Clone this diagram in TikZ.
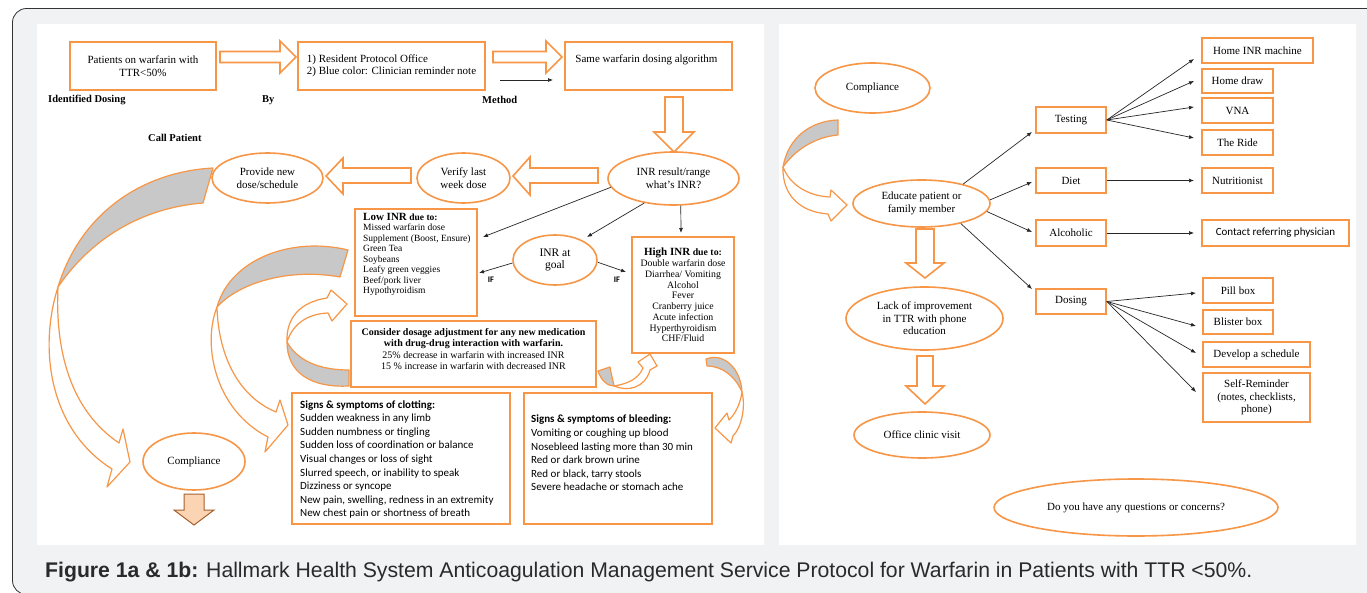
\documentclass[tikz,border=0pt]{standalone}
\usepackage{fontspec}
\setmainfont{Liberation Serif}
\newfontfamily\cali{Carlito}
\newfontfamily\arialf{Liberation Sans}
\usetikzlibrary{arrows.meta,shapes.geometric}
\definecolor{org}{HTML}{F79646}
\definecolor{bggray}{HTML}{F1F2F4}
\definecolor{crescent}{HTML}{C8C8C8}
\definecolor{peach}{HTML}{FBD4B4}
\definecolor{peachline}{HTML}{A5602E}
\definecolor{captxt}{HTML}{2A2A2A}
\begin{document}
\begin{tikzpicture}[x=1pt,y=-1pt,
  box/.style={draw=org,line width=1.6pt,fill=white,rectangle,inner sep=0pt,align=center,font=\fontsize{11}{12.5}\selectfont},
  oval/.style={draw=org,line width=1.6pt,fill=white,ellipse,inner sep=0pt,align=center,font=\fontsize{11}{12.5}\selectfont},
  blk/.style={draw=org,line width=1.6pt,fill=white,line join=miter},
  crv/.style={draw=org,line width=1.2pt,fill=white,line join=round},
  crvg/.style={draw=org,line width=1.2pt,fill=crescent,line join=round},
  conn/.style={draw=black!85,line width=0.7pt,-{Latex[length=5pt,width=4pt]}},
  txt/.style={inner sep=0pt,align=center,font=\fontsize{11}{12.5}\selectfont},
  lbl/.style={inner sep=0pt,anchor=west,font=\bfseries\fontsize{10.5}{12}\selectfont},
  iflbl/.style={inner sep=0pt,font=\cali\bfseries\fontsize{8.5}{10}\selectfont},
  sans/.style={inner sep=0pt,align=left,anchor=west,font=\cali\fontsize{11}{13.6}\selectfont},
]
\useasboundingbox (0,0) rectangle (1367,593);
\fill[white] (0,0) rectangle (1367,593);
\draw[fill=bggray,draw=black!80,line width=0.8pt,rounded corners=14pt] (12.5,8.5) rectangle (1390,594.5);
\fill[white] (37,24) rectangle (764,545);
\fill[white] (779,24) rectangle (1356,545);

% ---------- left panel, top row ----------
\node[box,minimum width=146pt,minimum height=48pt] (p1) at (143,66) {Patients on warfarin with\\TTR<50\%};
\draw[blk] (220,51.5) -- (280,51.5) -- (280,41) -- (296,57) -- (280,73) -- (280,62.5) -- (220,62.5) -- cycle;
\node[box,minimum width=187pt,minimum height=48pt,align=left] (p2) at (391.5,66) {1) Resident Protocol Office\\2) Blue color: Clinician reminder note};
\draw[blk] (493,51.5) -- (546,51.5) -- (546,41) -- (562,57) -- (546,73) -- (546,62.5) -- (493,62.5) -- cycle;
\coordinate (sa1) at (500,80);
\coordinate (sa2) at (553,80);
\draw[conn] (sa1) -- (sa2);
\node[box,minimum width=167pt,minimum height=48pt] (p3) at (648.5,66) {};
\node[txt] (p3t) at (646.5,60) {Same warfarin dosing algorithm};
\node[lbl] (l1) at (48,100) {Identified Dosing};
\node[lbl] (l2) at (262,100) {By};
\node[lbl] (l3) at (482,100) {Method};
\node[lbl] (l4) at (148,138) {Call Patient};

% down arrow to INR
\draw[blk] (665,97) -- (683,97) -- (683,132) -- (694,132) -- (674,152) -- (654,132) -- (665,132) -- cycle;
\node[oval,minimum width=131pt,minimum height=53pt] (inr) at (673.5,178.5) {INR result/range\\what’s INR?};
\draw[blk] (598,168) -- (530,168) -- (530,157) -- (513,176) -- (530,195) -- (530,183) -- (598,183) -- cycle;
\node[oval,minimum width=93pt,minimum height=50pt] (verify) at (463.5,178) {Verify last\\week dose};
\draw[blk] (411,168) -- (343,168) -- (343,158) -- (326,176) -- (343,194) -- (343,183) -- (411,183) -- cycle;
\node[oval,minimum width=111pt,minimum height=50pt] (provide) at (267.5,178) {Provide new\\dose/schedule};

% ---------- INR branches ----------
\node[box,minimum width=122pt,minimum height=107pt] (low) at (416,262.5) {};
\node[inner sep=0pt,anchor=north west,align=left,font=\fontsize{9.5}{10.5}\selectfont] (lowt) at (363,213)
 {{\bfseries\fontsize{11}{10.5}\selectfont Low INR} \textbf{due to:}\\Missed warfarin dose\\Supplement (Boost, Ensure)\\Green Tea\\Soybeans\\Leafy green veggies\\Beef/pork liver\\Hypothyroidism};
\node[oval,minimum width=84pt,minimum height=50pt,font=\fontsize{11.5}{12.5}\selectfont] (goal) at (555,260) {INR at\\goal};
\node[box,minimum width=102pt,minimum height=116pt,font=\fontsize{9.8}{10.75}\selectfont] (high) at (683,295)
 {{\bfseries\fontsize{11}{10.75}\selectfont High INR} \textbf{due to:}\\Double warfarin dose\\Diarrhea/ Vomiting\\Alcohol\\Fever\\Cranberry juice\\Acute infection\\Hyperthyroidism\\CHF/Fluid};
\node[box,minimum width=245pt,minimum height=66pt] (consider) at (473.5,354) {};
\node[txt,font=\fontsize{10}{11.4}\selectfont] (considert) at (473.5,349)
 {\textbf{Consider dosage adjustment for any new medication}\\\textbf{with drug-drug interaction with warfarin.}\\25\% decrease in warfarin with increased INR\\15 \% increase in warfarin with decreased INR};

\coordinate (e1) at (483,237);
\coordinate (e2) at (587,237);
\coordinate (e3) at (681,233);
\coordinate (e4) at (479,273);
\coordinate (e5) at (626,272);
\draw[conn] (inr.188.9) -- (e1);
\draw[conn] (inr.220.7) -- (e2);
\draw[conn] (inr.285.8) -- (e3);
\draw[conn] (goal.184) -- (e4);
\draw[conn] (goal.357) -- (e5);
\node[iflbl] (if1) at (491,280) {IF};
\node[iflbl] (if2) at (617,280) {IF};

% ---------- symptoms ----------
\node[box,minimum width=218pt,minimum height=131pt] (clot) at (401,458.5) {};
\node[sans] (clott) at (300,459.5) {\textbf{Signs \& symptoms of clotting:}\\Sudden weakness in any limb\\Sudden numbness or tingling\\Sudden loss of coordination or balance\\Visual changes or loss of sight\\Slurred speech, or inability to speak\\Dizziness or syncope\\New pain, swelling, redness in an extremity\\New chest pain or shortness of breath};
\node[box,minimum width=188pt,minimum height=131pt] (bleed) at (618,458.5) {};
\node[sans] (bleedt) at (531,453) {\textbf{Signs \& symptoms of bleeding:}\\Vomiting or coughing up blood\\Nosebleed lasting more than 30 min\\Red or dark brown urine\\Red or black, tarry stools\\Severe headache or stomach ache};

\node[oval,minimum width=102pt,minimum height=57pt] (comp1) at (194,461.5) {Compliance};
\draw[fill=peach,draw=peachline,line width=1pt,line join=miter] (184,494) -- (204,494) -- (204,510) -- (214,510) -- (194,525) -- (174,510) -- (184,510) -- cycle;

% ---------- curved arrows (left panel) ----------
% big: provide -> compliance
\filldraw[crvg] (213,168) .. controls (140,172) and (80,215) .. (58,287) .. controls (90,240) and (140,208) .. (203,203) -- cycle;
\filldraw[crv] (58,287) .. controls (38,350) and (50,430) .. (112,469) -- (107,487) -- (130,462) -- (123,429) -- (119,443) .. controls (70,410) and (55,350) .. (58,287) -- cycle;
% medium: -> clotting box
\filldraw[crvg] (348,250) .. controls (290,236) and (230,260) .. (217,307) .. controls (240,282) and (290,268) .. (340,277) -- cycle;
\filldraw[crv] (217,307) .. controls (202,345) and (215,410) .. (268,437) -- (265,452) -- (288,425) -- (280,400) -- (276,412) .. controls (235,395) and (218,350) .. (217,307) -- cycle;
% small: consider -> low INR
\filldraw[crvg] (349,386) .. controls (310,388) and (287,372) .. (287,342) .. controls (297,360) and (318,370) .. (349,370) -- cycle;
\filldraw[crv] (287,342) .. controls (286,318) and (300,302) .. (327,298) -- (331,290) -- (347,304) -- (332,321) -- (328,313) .. controls (305,314) and (292,326) .. (287,342) -- cycle;
% small: consider -> high INR
\filldraw[crvg] (598,371) .. controls (601,380) and (607,386) .. (614,386) .. controls (613,380) and (611,374) .. (610,367) -- cycle;
\filldraw[crv] (614,386) .. controls (628,392) and (645,388) .. (650,370) -- (657,366) -- (650,354) -- (638,362) -- (643,368) .. controls (638,380) and (626,384) .. (614,386) -- cycle;
% high INR -> bleeding
\filldraw[crvg] (706,359) .. controls (725,352) and (741,370) .. (742,392) .. controls (735,376) and (722,366) .. (707,366) -- cycle;
\filldraw[crv] (742,392) .. controls (746,408) and (741,428) .. (733,436) -- (731,443) -- (715,428) -- (727,413) -- (729,420) .. controls (735,414) and (740,405) .. (742,392) -- cycle;

% ---------- right panel ----------
\node[oval,minimum width=115pt,minimum height=50pt] (comp2) at (872.5,88) {Compliance};
\filldraw[crvg] (838,120) .. controls (810,121) and (788,138) .. (783,167) .. controls (795,150) and (815,137) .. (838,135) -- cycle;
\filldraw[crv] (783,167) .. controls (782,195) and (800,212) .. (828,214) -- (831,221) -- (847,205) -- (831,190) -- (830,197) .. controls (808,196) and (790,185) .. (783,167) -- cycle;
\node[oval,minimum width=137pt,minimum height=47pt] (educ) at (921.5,203.5) {Educate patient or\\family member};
\draw[blk] (916,229) -- (934,229) -- (934,263) -- (944,263) -- (925,278) -- (906,263) -- (916,263) -- cycle;
\node[oval,minimum width=157pt,minimum height=63pt] (lack) at (924.5,318.5) {Lack of improvement\\in TTR with phone\\education};
\draw[blk] (917,356) -- (933,356) -- (933,386) -- (944,386) -- (925,404) -- (906,386) -- (917,386) -- cycle;
\node[oval,minimum width=136pt,minimum height=46pt] (office) at (922,435) {Office clinic visit};
\node[oval,minimum width=284pt,minimum height=57pt] (quest) at (1136,507.5) {Do you have any questions or concerns?};

\node[box,minimum width=70pt,minimum height=26pt] (testing) at (1071,120) {Testing};
\node[box,minimum width=70pt,minimum height=25pt] (diet) at (1071,180.5) {Diet};
\node[box,minimum width=70pt,minimum height=26pt] (alco) at (1071,233) {Alcoholic};
\node[box,minimum width=70pt,minimum height=25pt] (dosing) at (1071,301.5) {Dosing};

\node[box,minimum width=111pt,minimum height=25pt] (homeinr) at (1257.5,50.5) {Home INR machine};
\node[box,minimum width=71pt,minimum height=24pt] (homedraw) at (1237.5,81) {Home draw};
\node[box,minimum width=71pt,minimum height=25pt] (vna) at (1237.5,110.5) {VNA};
\node[box,minimum width=71pt,minimum height=25pt] (ride) at (1237.5,142.5) {The Ride};
\node[box,minimum width=71pt,minimum height=25pt] (nutri) at (1237.5,180.5) {Nutritionist};
\node[box,minimum width=147pt,minimum height=26pt,font=\cali\fontsize{11}{12.5}\selectfont] (contact) at (1275.5,233) {Contact referring physician};
\node[box,minimum width=70pt,minimum height=25pt] (pill) at (1238,290.5) {Pill box};
\node[box,minimum width=70pt,minimum height=24pt] (blister) at (1238,322) {Blister box};
\node[box,minimum width=107pt,minimum height=25pt] (develop) at (1256.5,354.5) {Develop a schedule};
\node[box,minimum width=107pt,minimum height=49pt] (selfr) at (1256.5,397.5) {Self-Reminder\\(notes, checklists,\\phone)};

\coordinate (r1) at (1032,132);
\coordinate (r2) at (1032,182);
\coordinate (r3) at (1032,232);
\coordinate (r4) at (1032,289);
\draw[conn] (educ.25.8) -- (r1);
\draw[conn] (educ.3.8) -- (r2);
\draw[conn] (educ.353.7) -- (r3);
\draw[conn] (educ.333.2) -- (r4);

\coordinate (t1) at (1194,59);
\coordinate (t2) at (1194,81);
\coordinate (t3) at (1194,107);
\coordinate (t4) at (1194,138);
\draw[conn] (testing.east) -- (t1);
\draw[conn] (testing.east) -- (t2);
\draw[conn] (testing.east) -- (t3);
\draw[conn] (testing.east) -- (t4);
\coordinate (n1) at (1194,180.5);
\draw[conn] (diet.east) -- (n1);
\coordinate (c1) at (1194,233);
\draw[conn] (alco.east) -- (c1);
\coordinate (d1) at (1196,293);
\coordinate (d2) at (1196,326);
\coordinate (d3) at (1196,353);
\coordinate (d4) at (1196,392);
\draw[conn] (dosing.east) -- (d1);
\draw[conn] (dosing.east) -- (d2);
\draw[conn] (dosing.east) -- (d3);
\draw[conn] (dosing.east) -- (d4);

% ---------- caption ----------
\node[inner sep=0pt,anchor=base west,text=captxt,font=\arialf\fontsize{21.2}{24}\selectfont] (cap) at (45,577)
 {\textbf{Figure 1a \& 1b:} Hallmark Health System Anticoagulation Management Service Protocol for Warfarin in Patients with TTR <50\%.};
\end{tikzpicture}
\end{document}
